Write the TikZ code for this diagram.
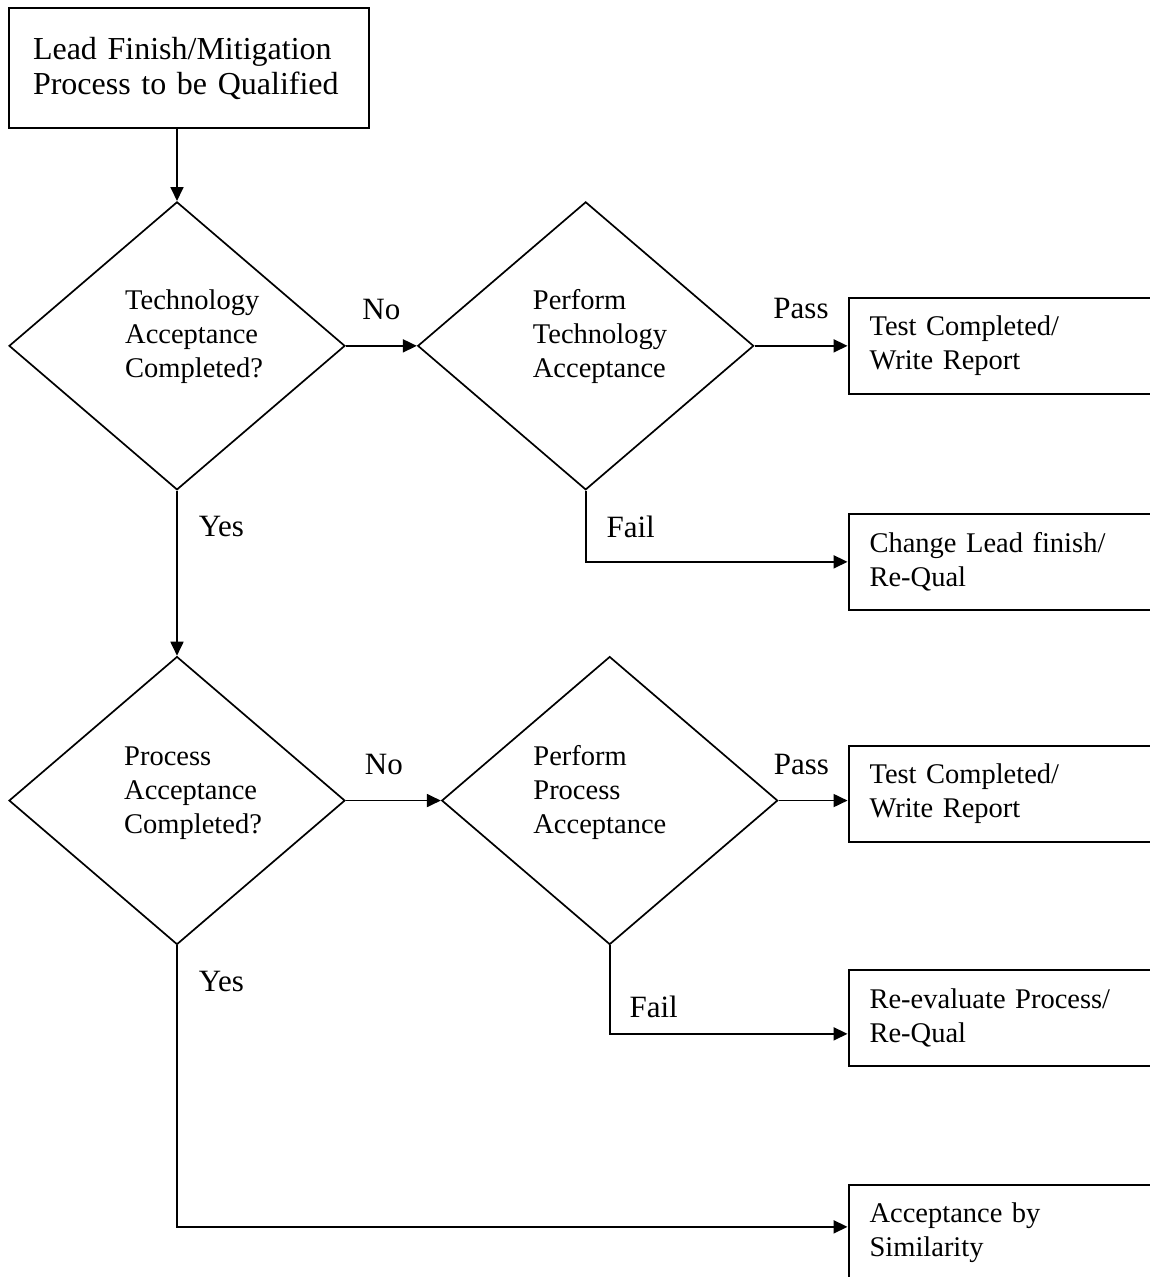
\documentclass[tikz,border=0pt]{standalone}
\usepackage{fontspec}
\setmainfont{Liberation Serif}
\usetikzlibrary{positioning,shapes.geometric,arrows.meta}
\tikzstyle{qbox}=[rectangle, draw=black, line width=2pt, minimum width=360pt,
                  minimum height=120pt, inner xsep=24pt, text width=312pt, align=left,
                  font=\fontsize{32}{35}\selectfont]
\tikzstyle{dbox}=[diamond, draw=black, line width=1.7pt, minimum width=336pt,
                  minimum height=288pt, inner sep=0pt]
\tikzstyle{dtext}=[inner sep=0pt, align=left, anchor=west,
                   font=\fontsize{28.5}{34}\selectfont]
\tikzstyle{rbox}=[rectangle, draw=black, line width=2pt, minimum width=311pt,
                  minimum height=96pt, inner xsep=21pt, inner ysep=0pt, text width=269pt,
                  align=left, font=\fontsize{28.5}{34}\selectfont]
\tikzstyle{pline}=[-{Triangle[length=14pt,width=13pt]}, line width=1.8pt]
\tikzstyle{lbl}=[inner sep=0pt, font=\fontsize{31}{34}\selectfont]

\begin{document}
\begin{tikzpicture}[x=1pt,y=-1pt]

\fill[white] (0,0) rectangle (1150,1277);
\useasboundingbox (0,0) rectangle (1150,1277);
\clip (0,0) rectangle (1150,1277);

\node (LEADQUAL) [qbox] at (189,68) {Lead Finish/Mitigation\\Process to be Qualified};

\node (TECHACC) [dbox, below=72pt of LEADQUAL, xshift=-12pt] {};
\node (TECHACCT) [dtext, xshift=-52pt, yshift=9pt] at (TECHACC) {Technology\\Acceptance\\Completed?};
 \draw[pline] (TECHACC.north |- LEADQUAL.south) -- (TECHACC.north);

\node (PERFTECH) [dbox, right=71pt of TECHACC] {};
\node (PERFTECHT) [dtext, xshift=-53pt, yshift=9pt] at (PERFTECH) {Perform\\Technology\\Acceptance};
 \draw[pline] (TECHACC.east) -- node[lbl, above=25pt] {No} (PERFTECH.west);

\node (TESTREP) [rbox, right=93pt of PERFTECH] {Test Completed/\\Write Report};
 \draw[pline] (PERFTECH.east) -- node[lbl, above=26pt] {Pass} (PERFTECH.east -| TESTREP.west);

\node (CHGLEAD) [rbox, below=118pt of TESTREP] {Change Lead finish/\\Re-Qual};
 \draw[pline] (PERFTECH.south) |- node[lbl, pos=0.326, anchor=base west, xshift=20pt] {Fail} (CHGLEAD.west);

\node (PROCACC) [dbox, below=165pt of TECHACC] {};
\node (PROCACCT) [dtext, xshift=-53pt, yshift=7pt] at (PROCACC) {Process\\Acceptance\\Completed?};
 \draw[pline] (TECHACC.south) -- node[lbl, pos=0.28, anchor=base west, xshift=21pt] {Yes} (PROCACC.north);

\node (PERFPROC) [dbox, right=95pt of PROCACC] {};
\node (PERFPROCT) [dtext, xshift=-76.5pt, yshift=8pt] at (PERFPROC) {Perform\\Process\\Acceptance};
 \draw[pline] (PROCACC.east) -- node[lbl, pos=0.4, above=25pt] {No} (PERFPROC.west);

\node (TESTREPP) [rbox, below=134pt of CHGLEAD] {Test Completed/\\Write Report};
 \draw[pline] (PERFPROC.east) -- node[lbl, pos=0.33, above=25pt] {Pass} (PERFPROC.east -| TESTREPP.west);

\node (REEVAL) [rbox, below=126pt of TESTREPP] {Re-evaluate Process/\\Re-Qual};
 \draw[pline] (PERFPROC.south) |- node[lbl, pos=0.41, anchor=base west, xshift=19pt] {Fail} ([yshift=-16pt]REEVAL.west);

\node (ACCSIM) [rbox, below=117pt of REEVAL] {Acceptance by\\Similarity};
 \draw[pline] (PROCACC.south) |- node[lbl, pos=0.082, anchor=base west, xshift=21pt] {Yes} ([yshift=6pt]ACCSIM.west);

\end{tikzpicture}
\end{document}
